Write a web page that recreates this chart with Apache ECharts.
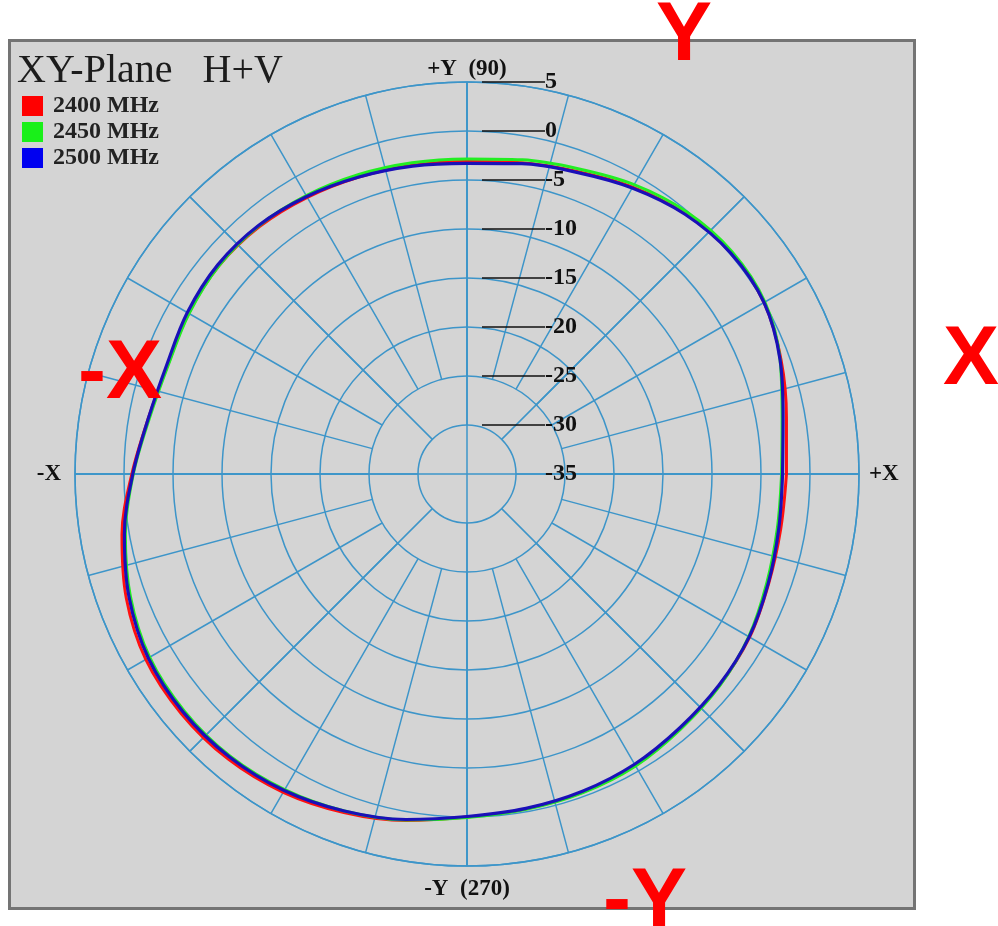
<!DOCTYPE html>
<html><head><meta charset="utf-8">
<script src="https://cdn.jsdelivr.net/npm/echarts@6/dist/echarts.min.js"></script>
<style>html,body{margin:0;padding:0;background:#fff}#c{width:998px;height:926px}</style>
</head><body><div id="c"></div>
<script>
// ---- data (dB vs azimuth angle, degrees) ----
const angles   = [0,10,20,30,40,50,60,70,80,90,100,110,120,130,140,150,160,170,180,190,200,210,220,230,240,250,260,270,280,290,300,310,320,330,340,350,360];
const gain2400 = [-2.4,-1.9,-0.9,0.0,0.15,-0.35,-1.2,-2.15,-2.75,-3.1,-3.0,-2.75,-2.4,-2.05,-1.95,-2.2,-2.5,-2.0,-0.8,0.75,2.0,2.85,3.05,2.95,2.5,1.75,0.9,0.0,-0.3,-0.45,-0.65,-1.1,-1.4,-1.7,-2.25,-2.5,-2.4];
const gain2450 = [-2.9,-2.35,-1.0,0.1,0.3,-0.1,-0.9,-1.85,-2.45,-2.85,-2.75,-2.5,-2.2,-1.95,-1.95,-2.25,-2.55,-2.1,-0.95,0.4,1.55,2.4,2.65,2.6,2.2,1.6,0.85,0.05,-0.25,-0.4,-0.6,-1.05,-1.35,-1.8,-2.45,-2.85,-2.9];
const gain2500 = [-2.8,-2.25,-1.0,0.0,0.1,-0.4,-1.3,-2.25,-2.85,-3.3,-3.1,-2.75,-2.3,-1.9,-1.8,-2.05,-2.4,-2.0,-0.9,0.5,1.7,2.55,2.8,2.7,2.3,1.6,0.8,-0.05,-0.35,-0.55,-0.8,-1.2,-1.45,-1.75,-2.3,-2.7,-2.8];
const seriesNames = ['2400 MHz','2450 MHz','2500 MHz'];
const radiusTicks = [-35,-30,-25,-20,-15,-10,-5,0,5];
const angleTickValues = [0,90,180,270];
const angleTickLabels = ['+X','+Y  (90)','-X','-Y  (270)'];

// ---- styles ----
const C = [467,474], R = 392;
const gridColor = '#3d95c9';
const gridLine = {show:true, lineStyle:{color:gridColor, width:1.5}};
const rMin = radiusTicks[0], rMax = radiusTicks[radiusTicks.length-1], rStep = radiusTicks[1]-radiusTicks[0];
const serif = '"Liberation Serif","Times New Roman",serif';
const angLabelPad = [[0,0,0,9],[0,0,0,0],[0,13,0,0],[11,0,0,0]];
const angRich = {};
angLabelPad.forEach((p,i)=>{ angRich['p'+i] = {fontFamily:serif, fontWeight:'bold', fontSize:23, color:'#111', padding:p}; });

function pairs(g){ return angles.map((a,i)=>[g[i], a]); }
const redFont = 'bold 84px "Liberation Sans",Arial,sans-serif';

const chart = echarts.init(document.getElementById('c'), null, {renderer:'canvas'});
chart.setOption({
  backgroundColor:'#ffffff',
  animation:false,
  title:{text:'XY-Plane   H+V', left:12, top:46,
    textStyle:{fontFamily:serif, fontSize:40, fontWeight:'normal', color:'#1c1c1c'}},
  legend:{orient:'vertical', left:17, top:89, itemWidth:21, itemHeight:20, itemGap:2, icon:'rect',
    data:seriesNames,
    textStyle:{fontFamily:serif, fontWeight:'bold', fontSize:24, color:'#222', lineHeight:20, padding:[0,0,0,5]}},
  graphic:[
    {type:'rect', z:-100, shape:{x:9.5,y:40.5,width:905,height:868}, style:{fill:'#d4d4d4', stroke:'#747474', lineWidth:3}},
    {type:'text', z:100, x:684, y:37, style:{text:'Y', font:redFont, fill:'#ff0000', align:'center', verticalAlign:'middle'}},
    {type:'text', z:100, x:971, y:361, style:{text:'X', font:redFont, fill:'#ff0000', align:'center', verticalAlign:'middle'}},
    {type:'text', z:100, x:120, y:375, style:{text:'-X', font:redFont, fill:'#ff0000', align:'center', verticalAlign:'middle'}},
    {type:'text', z:100, x:645, y:903, style:{text:'-Y', font:redFont, fill:'#ff0000', align:'center', verticalAlign:'middle'}}
  ],
  polar:[
    {center:C, radius:R},
    {center:C, radius:[49,R]},
    {center:C, radius:[98,R]},
    {center:C, radius:R}
  ],
  angleAxis:[
    {polarIndex:0, type:'value', startAngle:0, clockwise:false, min:0, max:360, interval:90,
      axisLine:{show:true, lineStyle:{color:gridColor, width:1.5}}, axisTick:{show:false}, splitLine:gridLine,
      axisLabel:{show:true, margin:1,
        formatter:v=>{const i=angleTickValues.indexOf(v); return i<0?'':'{p'+i+'|'+angleTickLabels[i]+'}';},
        rich:angRich}},
    {polarIndex:1, type:'value', startAngle:0, clockwise:false, min:0, max:360, interval:45,
      axisLine:{show:false}, axisTick:{show:false}, axisLabel:{show:false}, splitLine:gridLine},
    {polarIndex:2, type:'value', startAngle:0, clockwise:false, min:0, max:360, interval:15,
      axisLine:{show:false}, axisTick:{show:false}, axisLabel:{show:false}, splitLine:gridLine},
    {polarIndex:3, type:'value', startAngle:90, clockwise:false, min:0, max:360, interval:90,
      axisLine:{show:false}, axisTick:{show:false}, axisLabel:{show:false}, splitLine:{show:false}}
  ],
  radiusAxis:[
    {polarIndex:0, type:'value', min:rMin, max:rMax, interval:rStep,
      axisLine:{show:false}, axisTick:{show:false}, axisLabel:{show:false}, splitLine:gridLine},
    {polarIndex:1, type:'value', min:rMin, max:rMax, interval:rStep, axisLine:{show:false}, axisTick:{show:false}, axisLabel:{show:false}, splitLine:{show:false}},
    {polarIndex:2, type:'value', min:rMin, max:rMax, interval:rStep, axisLine:{show:false}, axisTick:{show:false}, axisLabel:{show:false}, splitLine:{show:false}},
    {polarIndex:3, type:'value', min:rMin, max:rMax, interval:rStep, z:10,
      axisLine:{show:false}, axisTick:{show:false}, splitLine:{show:false},
      axisLabel:{show:true, align:'left', margin:-15, formatter:v=> (v===rMin? '{s|}':'{l|}') + '{t|' + v + '}',
        rich:{
          l:{width:63, height:1.6, backgroundColor:'#111'},
          s:{width:63, height:1.6, backgroundColor:'transparent'},
          t:{fontFamily:serif, fontWeight:'bold', fontSize:24, color:'#111'}
        }}}
  ],
  series:[
    {name:seriesNames[0], type:'line', coordinateSystem:'polar', polarIndex:0, data:pairs(gain2400), showSymbol:false, smooth:0.35,
      itemStyle:{color:'#ff0000'}, lineStyle:{color:'#ff1010', width:3}, z:3},
    {name:seriesNames[1], type:'line', coordinateSystem:'polar', polarIndex:0, data:pairs(gain2450), showSymbol:false, smooth:0.35,
      itemStyle:{color:'#19f019'}, lineStyle:{color:'#22ee22', width:3}, z:4},
    {name:seriesNames[2], type:'line', coordinateSystem:'polar', polarIndex:0, data:pairs(gain2500), showSymbol:false, smooth:0.35,
      itemStyle:{color:'#0000f0'}, lineStyle:{color:'#1a10b8', width:3.2}, z:5}
  ]
});
</script></body></html>
